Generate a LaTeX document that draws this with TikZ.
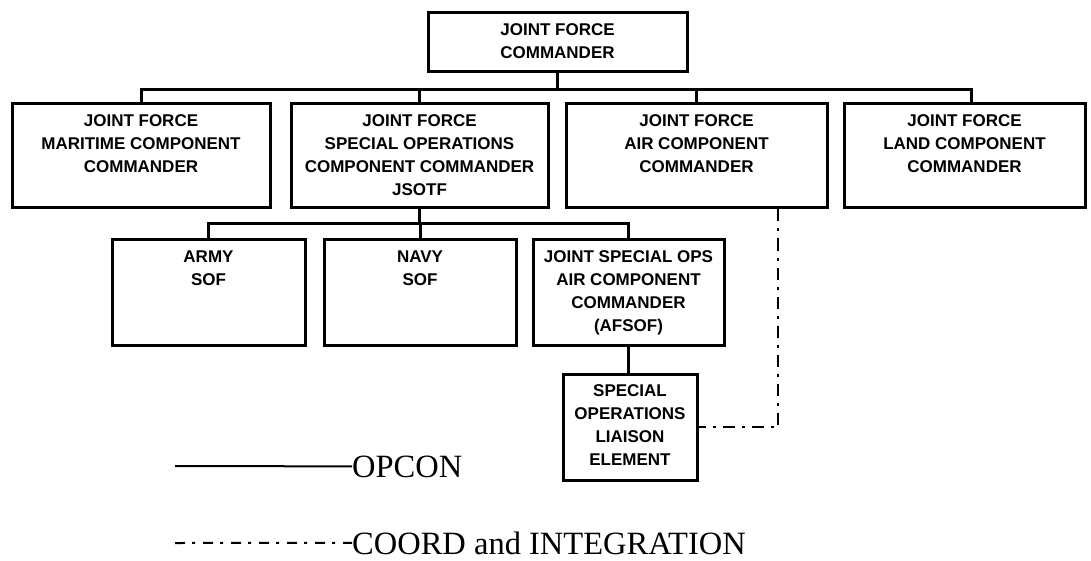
\documentclass[tikz,border=0pt]{standalone}
\usepackage{fontspec}
\setmainfont{Liberation Serif}
\newfontfamily\unitfont{Liberation Sans}
\newcommand\ub[3]{\parbox[c][#2pt][t]{#1pt}{\centering\vspace*{11pt}#3}}
\begin{document}
\begin{tikzpicture}[x=1pt,y=-1pt,
  unit/.style={draw, line width=3pt, inner sep=0pt, font=\unitfont\bfseries\fontsize{17}{23}\selectfont},
  link/.style={line width=3pt},
  coordline/.style={line width=2.5pt, dash pattern=on 12pt off 7pt on 3pt off 7pt},
  legendtext/.style={font=\fontsize{32.5}{36}\selectfont, inner sep=0pt, anchor=base west}]
\fill[white] (0,0) rectangle (1091,561);
\useasboundingbox (0,0) rectangle (1091,561);

\node[unit] (jfc) at (557.5,42.5) {\ub{259}{59}{JOINT FORCE\\COMMANDER}};
\node[unit] (maritime) at (141,156) {\ub{258}{104}{JOINT FORCE\\MARITIME COMPONENT\\COMMANDER}};
\node[unit] (socc) at (419.5,156) {\ub{257}{104}{JOINT FORCE\\SPECIAL OPERATIONS\\COMPONENT COMMANDER\\JSOTF}};
\node[unit] (air) at (696.5,156) {\ub{261}{104}{JOINT FORCE\\AIR COMPONENT\\COMMANDER}};
\node[unit] (land) at (964.5,156) {\ub{241}{104}{JOINT FORCE\\LAND COMPONENT\\COMMANDER}};
\node[unit] (army) at (208.5,292.5) {\ub{193}{105}{ARMY\\SOF}};
\node[unit] (navy) at (420,292.5) {\ub{192}{105}{NAVY\\SOF}};
\node[unit] (jsoacc) at (628.5,292.5) {\ub{191}{105}{JOINT SPECIAL OPS\\AIR COMPONENT\\COMMANDER\\(AFSOF)}};
\node[unit] (sole) at (630,427) {\ub{134}{106}{SPECIAL\\OPERATIONS\\LIAISON\\ELEMENT}};

\coordinate (b1) at ([yshift=-16pt]jfc.south);
\draw[link] (jfc.south) -- (b1);
\draw[link] (maritime.north) |- (b1) -| ([xshift=7pt]land.north);
\draw[link] (socc.north) -- (socc.north |- b1);
\draw[link] (air.north) -- (air.north |- b1);

\coordinate (b2) at ([yshift=-14pt]socc.south);
\draw[link] (socc.south) -- (b2);
\draw[link] (army.north) |- (b2) -| (jsoacc.north);
\draw[link] (navy.north) -- (navy.north |- b2);
\draw[link] (jsoacc.south) -- (jsoacc.south |- sole.north);

\draw[coordline] ([xshift=81.5pt]air.south) |- (sole.east);

\node[legendtext] (opcon) at (352,477) {OPCON};
\coordinate (l1) at (175,466);
\draw[line width=2pt] (l1) -- (opcon.west);
\node[legendtext] (coordint) at (352,554) {COORD and INTEGRATION};
\coordinate (l2) at (175,543);
\draw[line width=2pt, dash pattern=on 10pt off 7pt on 3pt off 8pt] (l2) -- (coordint.west);
\end{tikzpicture}
\end{document}
